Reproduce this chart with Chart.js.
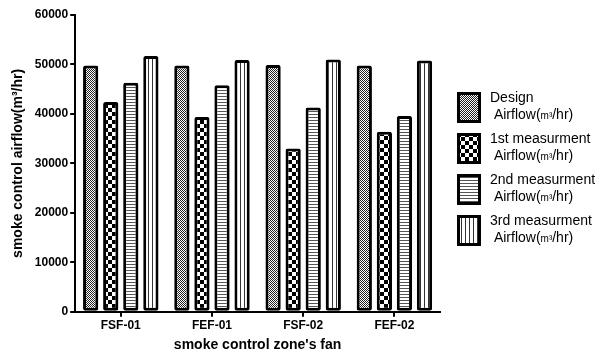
<!DOCTYPE html>
<html>
<head>
<meta charset="utf-8">
<script src="https://cdn.jsdelivr.net/npm/chart.js@4"></script>
<style>
  html, body { margin: 0; padding: 0; background: #fff; }
  #wrap { position: relative; width: 605px; height: 358px; }
  #legend { position: absolute; left: 457px; top: 92px; font-family: Arial, "Liberation Sans", sans-serif; font-size: 14px; color: #000; }
  .item { position: relative; height: 41px; }
  .item canvas { position: absolute; left: 0; top: 0; }
  .item .txt { position: absolute; left: 33px; top: -3px; line-height: 17px; white-space: nowrap; }
  .unit { font-size: 10px; }
</style>
</head>
<body>
<div id="wrap">
  <canvas id="chart" width="605" height="358"></canvas>
  <div id="legend"></div>
</div>
<script>
const categories = ['FSF-01', 'FEF-01', 'FSF-02', 'FEF-02'];
const seriesNames = ['Design', '1st measurment', '2nd measurment', '3rd measurment'];
const design = [49800, 49800, 49900, 49800];
const first = [42400, 39400, 33000, 36400];
const second = [46300, 45800, 41300, 39600];
const third = [51700, 50900, 51000, 50800];
const yTicks = [0, 10000, 20000, 30000, 40000, 50000, 60000];

// fill patterns, one per series
function makePattern(kind) {
  const c = document.createElement('canvas');
  const g = c.getContext('2d');
  if (kind === 0) {        // fine dither
    c.width = 2; c.height = 2;
    g.fillStyle = '#fff'; g.fillRect(0, 0, 2, 2);
    g.fillStyle = '#222'; g.fillRect(0, 0, 1, 1); g.fillRect(1, 1, 1, 1);
  } else if (kind === 1) { // coarse checker
    c.width = 8; c.height = 8;
    g.fillStyle = '#fff'; g.fillRect(0, 0, 8, 8);
    g.fillStyle = '#000'; g.fillRect(0, 0, 4, 4); g.fillRect(4, 4, 4, 4);
  } else if (kind === 2) { // horizontal lines
    c.width = 3; c.height = 3;
    g.fillStyle = '#fff'; g.fillRect(0, 0, 3, 3);
    g.fillStyle = '#555'; g.fillRect(0, 0, 3, 1);
  } else {                 // vertical lines
    c.width = 4; c.height = 4;
    g.fillStyle = '#fff'; g.fillRect(0, 0, 4, 4);
    g.fillStyle = '#333'; g.fillRect(0, 0, 1, 4);
  }
  return c;
}

const ctx = document.getElementById('chart').getContext('2d');
const patterns = [0, 1, 2, 3].map(k => ctx.createPattern(makePattern(k), 'repeat'));
const values = [design, first, second, third];

new Chart(ctx, {
  type: 'bar',
  data: {
    labels: categories,
    datasets: values.map((v, i) => ({
      label: seriesNames[i],
      data: v,
      backgroundColor: patterns[i],
      borderColor: '#000',
      borderWidth: 3,
      borderRadius: 2,
      borderSkipped: false,
      categoryPercentage: 0.88,
      barPercentage: 0.76
    }))
  },
  options: {
    responsive: false,
    animation: false,
    layout: { padding: { left: 10, right: 165, top: 15, bottom: 4 } },
    plugins: { legend: { display: false }, tooltip: { enabled: false } },
    scales: {
      x: {
        grid: { display: true, drawOnChartArea: false, offset: false, tickLength: 5, color: '#000', lineWidth: 2 },
        border: { color: '#000', width: 2 },
        ticks: { color: '#000', font: { family: 'Arial', size: 12, weight: 'bold' }, padding: 2 },
        title: { display: true, text: "smoke control zone's fan", color: '#000', font: { family: 'Arial', size: 14, weight: 'bold' }, padding: { top: 2, bottom: 0 } }
      },
      y: {
        min: 0, max: 60000,
        afterBuildTicks: axis => { axis.ticks = yTicks.map(v => ({ value: v })); },
        grid: { display: true, drawOnChartArea: false, tickLength: 5, color: '#000', lineWidth: 2 },
        border: { color: '#000', width: 2 },
        ticks: { color: '#000', font: { family: 'Arial', size: 12, weight: 'bold' }, padding: 2, callback: v => String(v) },
        title: { display: true, text: 'smoke control airflow(m³/hr)', color: '#000', font: { family: 'Arial', size: 14, weight: 'bold' }, padding: { top: 0, bottom: 6 } }
      }
    }
  }
});

// legend
const legend = document.getElementById('legend');
seriesNames.forEach((name, i) => {
  const item = document.createElement('div');
  item.className = 'item';
  const sw = document.createElement('canvas');
  sw.width = 24; sw.height = 31;
  const g = sw.getContext('2d');
  g.fillStyle = g.createPattern(makePattern(i), 'repeat');
  g.fillRect(0, 0, 24, 31);
  g.strokeStyle = '#000'; g.lineWidth = 3;
  g.strokeRect(1.5, 1.5, 21, 28);
  const txt = document.createElement('div');
  txt.className = 'txt';
  txt.innerHTML = name + '<br>&nbsp;Airflow(<span class="unit">m³</span>/hr)';
  item.appendChild(sw);
  item.appendChild(txt);
  legend.appendChild(item);
});
</script>
</body>
</html>
